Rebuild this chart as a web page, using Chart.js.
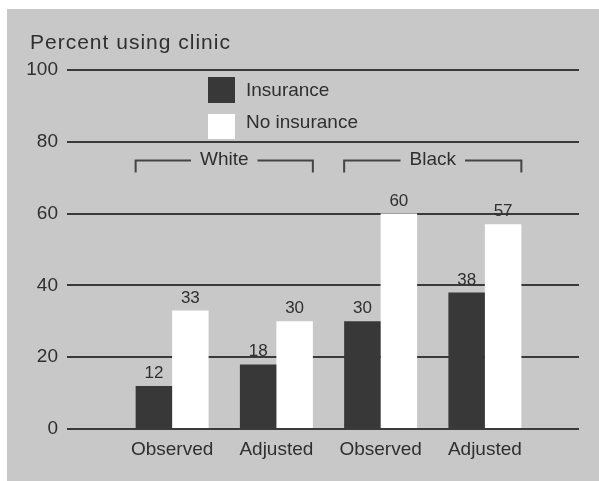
<!DOCTYPE html>
<html><head><meta charset="utf-8">
<style>html,body{margin:0;padding:0;background:#fff;}canvas{display:block;}</style>
<script src="https://cdn.jsdelivr.net/npm/chart.js@4/dist/chart.umd.min.js"></script>
</head><body>
<canvas id="c" width="599" height="481"></canvas>
<script>
const categories = ['Observed', 'Adjusted', 'Observed', 'Adjusted'];
const insurance = [12, 18, 30, 38];
const noInsurance = [33, 30, 60, 57];
const seriesNames = ['Insurance', 'No insurance'];
const groupNames = ['White', 'Black'];
const groupFirstIndex = [0, 2];
const groupLastIndex = [1, 3];
const yTicks = [0, 20, 40, 60, 80, 100];
const yTitle = 'Percent using clinic';

const FONT = '"Liberation Sans", Arial, Helvetica, sans-serif';
const TEXT = '#2f2f2f';
const LINE = '#3a3a3a';

const background = {
  id: 'bg',
  beforeDraw(chart) {
    const {ctx, width, height} = chart;
    ctx.save();
    ctx.fillStyle = '#ffffff'; ctx.fillRect(0, 0, width, height);
    ctx.fillStyle = '#c8c8c8'; ctx.fillRect(7, 9, width - 7, height - 9);
    ctx.restore();
  }
};

const axisTitle = {
  id: 'axisTitle',
  afterDraw(chart) {
    const {ctx, chartArea} = chart;
    ctx.save();
    ctx.font = '21px ' + FONT;
    if ('letterSpacing' in ctx) ctx.letterSpacing = '1px';
    ctx.fillStyle = TEXT; ctx.textAlign = 'left'; ctx.textBaseline = 'alphabetic';
    ctx.fillText(yTitle, 30, chartArea.top - 21);
    ctx.restore();
  }
};

const valueLabels = {
  id: 'valueLabels',
  afterDatasetsDraw(chart) {
    const {ctx} = chart;
    ctx.save();
    ctx.font = '17px ' + FONT;
    ctx.fillStyle = TEXT; ctx.textAlign = 'center'; ctx.textBaseline = 'alphabetic';
    chart.data.datasets.forEach((ds, di) => {
      chart.getDatasetMeta(di).data.forEach((bar, i) => {
        ctx.fillText(String(ds.data[i]), bar.x, bar.y - 8);
      });
    });
    ctx.restore();
  }
};

const groupBrackets = {
  id: 'brackets',
  afterDatasetsDraw(chart) {
    const {ctx} = chart;
    const y = Math.round(chart.scales.y.getPixelForValue(75)) + 0.5;
    const m0 = chart.getDatasetMeta(0);
    const m1 = chart.getDatasetMeta(chart.data.datasets.length - 1);
    ctx.save();
    ctx.font = '19px ' + FONT;
    ctx.strokeStyle = '#444444'; ctx.lineWidth = 2; ctx.fillStyle = TEXT;
    ctx.textAlign = 'center'; ctx.textBaseline = 'middle';
    groupNames.forEach((name, g) => {
      const b0 = m0.data[groupFirstIndex[g]], b1 = m1.data[groupLastIndex[g]];
      const x0 = b0.x - b0.width / 2, x1 = b1.x + b1.width / 2;
      const cx = (x0 + x1) / 2;
      const tw = ctx.measureText(name).width;
      const gap = 9;
      ctx.beginPath();
      ctx.moveTo(x0, y + 12); ctx.lineTo(x0, y); ctx.lineTo(cx - tw / 2 - gap, y);
      ctx.moveTo(cx + tw / 2 + gap, y); ctx.lineTo(x1, y); ctx.lineTo(x1, y + 12);
      ctx.stroke();
      ctx.fillText(name, cx, y - 1);
    });
    ctx.restore();
  }
};

const legendBox = {
  id: 'legendBox',
  afterDatasetsDraw(chart) {
    const {ctx, chartArea} = chart;
    const x = chartArea.left + 88, y0 = chartArea.top + 7, w = 27, h = 26, pitch = 37, textPitch = 32;
    ctx.save();
    ctx.font = '19px ' + FONT; ctx.textBaseline = 'middle'; ctx.textAlign = 'left';
    chart.data.datasets.forEach((ds, i) => {
      const y = y0 + i * pitch;
      ctx.fillStyle = ds.backgroundColor; ctx.fillRect(x, y, w, h - i);
      ctx.fillStyle = TEXT; ctx.fillText(ds.label, x + w + 11, y0 + 14 + i * textPitch);
    });
    ctx.restore();
  }
};

const setTicks = (s) => { s.ticks = yTicks.map(v => ({value: v})); };

new Chart(document.getElementById('c'), {
  type: 'bar',
  data: {
    labels: categories,
    datasets: [
      {label: seriesNames[0], data: insurance, backgroundColor: '#383838', borderWidth: 0, categoryPercentage: 0.70, barPercentage: 1},
      {label: seriesNames[1], data: noInsurance, backgroundColor: '#ffffff', borderWidth: 0, categoryPercentage: 0.70, barPercentage: 1}
    ]
  },
  options: {
    responsive: false, animation: false, devicePixelRatio: 1,
    layout: {padding: {left: 26, top: 70, right: 20, bottom: 0}},
    plugins: {
      legend: {display: false},
      tooltip: {enabled: false},
      title: {display: false}
    },
    scales: {
      x: {
        grid: {display: false, drawTicks: false}, border: {display: false},
        ticks: {color: TEXT, font: {size: 19, family: FONT}, padding: 9},
        afterFit: (s) => { s.height = 52; }
      },
      y: {
        position: 'left', min: 0, max: 100,
        afterBuildTicks: setTicks,
        grid: {color: LINE, lineWidth: 2, tickLength: 53},
        border: {display: false},
        ticks: {color: TEXT, font: {size: 19, family: FONT}, padding: 9},
        afterFit: (s) => { s.width = 94; }
      },
      y2: {
        position: 'right', min: 0, max: 100,
        afterBuildTicks: setTicks,
        grid: {color: LINE, lineWidth: 2, tickLength: 42, drawOnChartArea: false},
        border: {display: false},
        ticks: {display: false},
        afterFit: (s) => { s.width = 42; }
      }
    }
  },
  plugins: [background, legendBox, groupBrackets, valueLabels, axisTitle]
});
</script>
</body></html>
